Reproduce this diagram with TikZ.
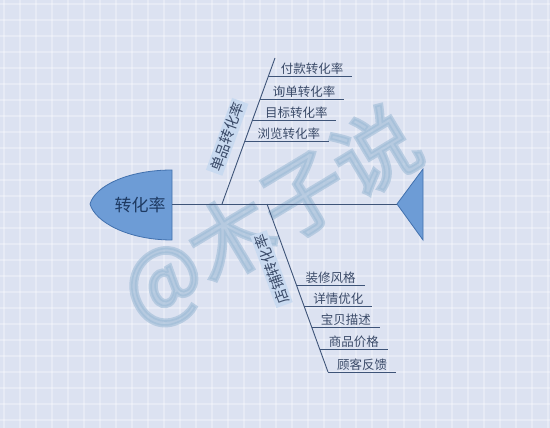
\documentclass[tikz,border=0pt]{standalone}
\usepackage{fontspec}
\newfontfamily\cjk{Noto Sans CJK SC}
\newfontfamily\markfont[FakeBold=4]{Noto Sans CJK SC}
\usetikzlibrary{calc}

\definecolor{bgblue}{HTML}{DCE2F1}
\definecolor{bonecol}{HTML}{3E5478}
\definecolor{textcol}{HTML}{3A4A68}
\definecolor{headtext}{HTML}{1E3A62}
\definecolor{headfill}{HTML}{6D9CD6}
\definecolor{headline}{HTML}{4271AE}
\definecolor{labelfill}{HTML}{C9DAF0}
\definecolor{markcol}{HTML}{9DBBD6}

\tikzset{
  bone/.style={draw=bonecol, line width=0.9pt},
  rib/.style={draw=bonecol, line width=0.8pt},
  ribtext/.style={text=textcol, font=\cjk\fontsize{12.5}{13}\selectfont, inner sep=1.5pt},
  branchtext/.style={text=textcol, font=\cjk\fontsize{14.5}{15}\selectfont, fill=labelfill, inner sep=2pt},
  headshape/.style={fill=headfill, draw=headline, line width=0.8pt},
}

\begin{document}
\begin{tikzpicture}[x=1pt, y=-1pt]
\useasboundingbox (0,0) rectangle (550,428);
% background
\fill[bgblue] (0,0) rectangle (550,428);
\foreach \gx in {4,20,...,550}
  \draw[white, opacity=0.3, line width=1.2pt] (\gx,0) -- (\gx,428);
\foreach \gy in {4,20,...,428}
  \draw[white, opacity=0.3, line width=1.2pt] (0,\gy) -- (550,\gy);

% watermark
\node[text=markcol, opacity=0.6, rotate=31, font=\markfont\fontsize{84}{84}\selectfont] (mark) at (271,218) {@木子说};

% head and tail
\path[headshape] (172,170) .. controls (128,170) and (95,186) .. (90,204)
  .. controls (95,222) and (128,240) .. (172,240) -- cycle;
\node[text=headtext, font=\cjk\fontsize{17}{17}\selectfont] (head) at (140,205) {转化率};
\coordinate (neck) at (172,204);
\coordinate (tail) at (397,204);
\coordinate (fintop) at (423,169);
\coordinate (finbot) at (423,240);
\draw[bone] (neck) -- (tail);
\path[headshape] (tail) -- (fintop) -- (finbot) -- cycle;

% upper bone
\coordinate (b1a) at (222,204);
\coordinate (b1b) at (275,58);
\draw[bone] (b1a) -- (b1b);
\node[branchtext, rotate=70] (b1) at ($(b1a)!0.418!(b1b)!18pt!90:(b1b)$) {单品转化率};
\foreach \t/\lab [count=\i] in {0.872/付款转化率, 0.719/询单转化率, 0.575/目标转化率, 0.432/浏览转化率} {
  \coordinate (u\i) at ($(b1a)!\t!(b1b)$);
  \coordinate (ue\i) at ($(u\i)+(84,0)$);
  \draw[rib] (u\i) -- (ue\i) node[midway, above, xshift=2pt, ribtext] (ut\i) {\lab};
}

% lower bone
\coordinate (b2a) at (267,204);
\coordinate (b2b) at (328,372);
\draw[bone] (b2a) -- (b2b);
\node[branchtext, rotate=110] (b2) at ($(b2a)!0.351!(b2b)!18pt!-90:(b2b)$) {店铺转化率};
\foreach \t/\lab [count=\i] in {0.486/装修风格, 0.611/详情优化, 0.736/宝贝描述, 0.865/商品价格, 1.0/顾客反馈} {
  \coordinate (l\i) at ($(b2a)!\t!(b2b)$);
  \coordinate (le\i) at ($(l\i)+(68,0)$);
  \draw[rib] (l\i) -- (le\i) node[midway, above, ribtext] (lt\i) {\lab};
}
\end{tikzpicture}
\end{document}
